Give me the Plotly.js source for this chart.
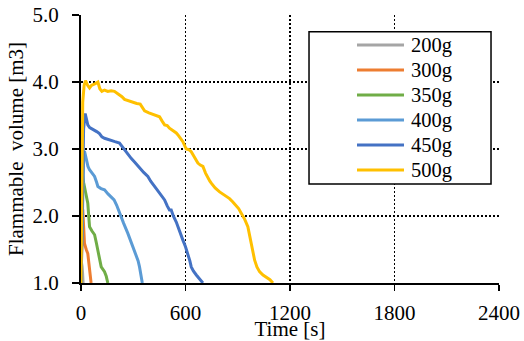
<!DOCTYPE html>
<html>
<head>
<meta charset="utf-8">
<script src="https://cdn.plot.ly/plotly-3.0.1.min.js"></script>
<style>html,body{margin:0;padding:0;background:#fff;}#chart{width:524px;height:341px;}</style>
</head>
<body>
<div id="chart"></div>
<script>
const seriesNames = ["200g", "300g", "350g", "400g", "450g", "500g"];
const seriesColors = ["#A5A5A5", "#ED7D31", "#70AD47", "#5B9BD5", "#4472C4", "#FFC000"];

const t200 = [0, 3, 6, 9, 12];
const v200 = [1.0, 1.3, 1.25, 1.15, 1.0];

const t300 = [0, 5, 10, 15, 20, 30, 39, 45, 49, 54, 58];
const v300 = [1.0, 1.8, 2.1, 1.85, 1.59, 1.5, 1.44, 1.3, 1.19, 1.1, 1.0];

const t350 = [0, 6, 10, 15, 20, 30, 39, 45, 49, 62, 78, 88, 97, 106, 116, 135, 145, 154];
const v350 = [1.0, 2.2, 2.6, 2.5, 2.44, 2.3, 2.19, 1.98, 1.84, 1.78, 1.72, 1.6, 1.49, 1.36, 1.24, 1.17, 1.1, 1.0];

const t400 = [0, 8, 15, 20, 30, 40, 49, 62, 78, 90, 97, 115, 135, 155, 173, 190, 205, 221, 245, 269, 290, 307, 317, 328, 336, 344, 352];
const v400 = [1.0, 2.3, 2.85, 2.97, 2.85, 2.74, 2.69, 2.64, 2.59, 2.5, 2.44, 2.41, 2.39, 2.33, 2.29, 2.24, 2.16, 2.04, 1.89, 1.74, 1.6, 1.47, 1.42, 1.33, 1.24, 1.12, 1.0];

const t450 = [0, 8, 15, 24, 32, 39, 50, 65, 78, 90, 106, 120, 135, 155, 173, 195, 221, 235, 250, 270, 288, 310, 336, 360, 384, 400, 432, 455, 480, 495, 508, 518, 530, 547, 565, 585, 600, 614, 625, 633, 645, 662, 680, 700];
const v450 = [1.0, 2.5, 3.3, 3.53, 3.45, 3.36, 3.32, 3.3, 3.28, 3.26, 3.23, 3.18, 3.16, 3.14, 3.13, 3.11, 3.09, 3.04, 2.99, 2.92, 2.86, 2.8, 2.72, 2.65, 2.59, 2.52, 2.41, 2.32, 2.24, 2.15, 2.09, 2.09, 2.0, 1.91, 1.77, 1.64, 1.54, 1.44, 1.33, 1.24, 1.18, 1.12, 1.06, 1.0];

const t500 = [0, 5, 10, 18, 26, 38, 49, 60, 72, 85, 97, 108, 120, 135, 154, 173, 192, 210, 221, 235, 250, 270, 298, 320, 340, 352, 365, 390, 413, 432, 451, 465, 480, 495, 508, 525, 547, 560, 575, 585, 604, 620, 633, 650, 671, 685, 700, 715, 729, 740, 748, 770, 796, 825, 853, 872, 891, 905, 920, 940, 958, 968, 978, 988, 997, 1010, 1025, 1045, 1064, 1085, 1102];
const v500 = [1.0, 2.6, 3.7, 3.95, 4.02, 3.95, 3.91, 3.95, 3.96, 3.98, 4.0, 3.9, 3.86, 3.88, 3.86, 3.87, 3.86, 3.83, 3.81, 3.78, 3.74, 3.72, 3.69, 3.68, 3.67, 3.62, 3.57, 3.54, 3.52, 3.5, 3.48, 3.42, 3.36, 3.35, 3.31, 3.28, 3.24, 3.2, 3.15, 3.11, 3.0, 2.99, 2.96, 2.88, 2.79, 2.76, 2.74, 2.64, 2.56, 2.52, 2.49, 2.42, 2.36, 2.31, 2.26, 2.21, 2.16, 2.11, 2.04, 1.95, 1.84, 1.72, 1.59, 1.46, 1.34, 1.24, 1.17, 1.12, 1.09, 1.05, 1.0];

const xTickVals = [0, 600, 1200, 1800, 2400];
const xTickText = ["0", "600", "1200", "1800", "2400"];
const yTickVals = [1, 2, 3, 4, 5];
const yTickText = ["1.0", "2.0", "3.0", "4.0", "5.0"];

const xs = [t200, t300, t350, t400, t450, t500];
const ys = [v200, v300, v350, v400, v450, v500];

const FONT = "Liberation Serif, Times New Roman, serif";

const traces = seriesNames.map((name, i) => ({
  type: "scatter",
  mode: "lines",
  name: name,
  x: xs[i],
  y: ys[i],
  line: {color: seriesColors[i], width: 3},
  hoverinfo: "skip"
}));

// legend drawn in paper coordinates (box, sample lines, labels)
const legBox = {x0: 0.5455, x1: 0.9809, y0: 0.3694, y1: 0.9377};
const legLineX = [0.6603, 0.7727];
const legTextX = 0.7847;
const legTopY = 0.888;
const legStepY = 0.0933;

const shapes = [{
  type: "rect", xref: "paper", yref: "paper",
  x0: legBox.x0, x1: legBox.x1, y0: legBox.y0, y1: legBox.y1,
  line: {color: "#000", width: 1.5},
  fillcolor: "#fff",
  layer: "above"
}].concat(seriesNames.map((name, i) => ({
  type: "line", xref: "paper", yref: "paper",
  x0: legLineX[0], x1: legLineX[1],
  y0: legTopY - i * legStepY, y1: legTopY - i * legStepY,
  line: {color: seriesColors[i], width: 3},
  layer: "above"
})));

const annotations = seriesNames.map((name, i) => ({
  xref: "paper", yref: "paper",
  x: legTextX, y: legTopY - i * legStepY,
  xanchor: "left", yanchor: "middle",
  text: name, showarrow: false,
  font: {family: FONT, size: 20.5, color: "#000"}
}));

const layout = {
  width: 524,
  height: 341,
  margin: {l: 81, r: 25, t: 15, b: 58},
  paper_bgcolor: "#fff",
  plot_bgcolor: "#fff",
  font: {family: FONT, size: 21, color: "#000"},
  showlegend: false,
  shapes: shapes,
  annotations: annotations,
  xaxis: {
    range: [0, 2400],
    tickvals: xTickVals,
    ticktext: xTickText,
    showline: true, linecolor: "#000", linewidth: 2,
    ticks: "outside", ticklen: 6, tickwidth: 1.5, tickcolor: "#000",
    ticklabelstandoff: 4,
    showgrid: true, gridcolor: "#000", gridwidth: 1.5, griddash: "2px,2px",
    zeroline: false,
    tickfont: {family: FONT, size: 21, color: "#000"},
    title: {text: "Time [s]", font: {family: FONT, size: 21, color: "#000"}, standoff: 3}
  },
  yaxis: {
    range: [1, 5],
    tickvals: yTickVals,
    ticktext: yTickText,
    showline: true, linecolor: "#000", linewidth: 2,
    ticks: "outside", ticklen: 7, tickwidth: 1.5, tickcolor: "#000",
    ticklabelstandoff: 9,
    showgrid: true, gridcolor: "#000", gridwidth: 1.5, griddash: "2px,2px",
    zeroline: false,
    tickfont: {family: FONT, size: 21, color: "#000"},
    title: {text: "Flammable  volume [m3]", font: {family: FONT, size: 21, color: "#000"}, standoff: 3}
  }
};

Plotly.newPlot("chart", traces, layout, {staticPlot: true, displayModeBar: false});
</script>
</body>
</html>
